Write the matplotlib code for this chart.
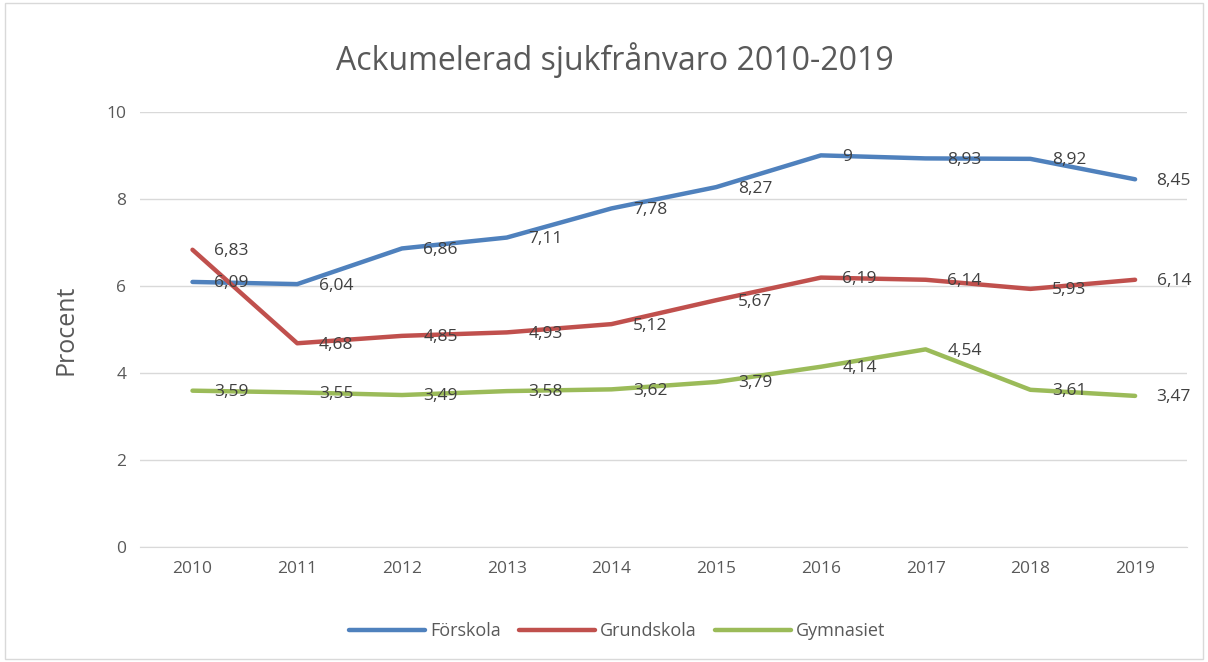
import matplotlib.pyplot as plt
from matplotlib.patches import Rectangle

years = ["2010", "2011", "2012", "2013", "2014", "2015", "2016", "2017", "2018", "2019"]
forskola = [6.09, 6.04, 6.86, 7.11, 7.78, 8.27, 9, 8.93, 8.92, 8.45]
grundskola = [6.83, 4.68, 4.85, 4.93, 5.12, 5.67, 6.19, 6.14, 5.93, 6.14]
gymnasiet = [3.59, 3.55, 3.49, 3.58, 3.62, 3.79, 4.14, 4.54, 3.61, 3.47]

series = [("Förskola", forskola, "#4F81BD"),
          ("Grundskola", grundskola, "#C0504D"),
          ("Gymnasiet", gymnasiet, "#9BBB59")]

plt.rcParams['font.family'] = ['Open Sans', 'DejaVu Sans']

fig = plt.figure(figsize=(12.08, 6.62), dpi=100)
ax = fig.add_axes([0.116, 0.174, 0.867, 0.657])

x = list(range(len(years)))
for name, vals, col in series:
    ax.plot(x, vals, color=col, lw=3.2, label=name, solid_capstyle="round")
    for xi, v in zip(x, vals):
        txt = f"{v:g}".replace(".", ",")
        ax.annotate(txt, (xi, v), xytext=(15.5, -1), textcoords="offset points",
                    ha="left", va="center", fontsize=12.5, color="#404040")

ax.set_xlim(-0.5, 9.5)
ax.set_ylim(0, 10)
ax.set_yticks([0, 2, 4, 6, 8, 10])
ax.set_xticks(x)
ax.set_xticklabels(years)
ax.tick_params(length=0, labelsize=12.5, labelcolor="#595959", pad=10)
ax.grid(axis="y", color="#D9D9D9", lw=1)
ax.set_axisbelow(True)
for s in ["top", "right", "left"]:
    ax.spines[s].set_visible(False)
ax.spines["bottom"].set_color("#D9D9D9")
ax.set_ylabel("Procent", fontsize=18, color="#595959", labelpad=20)

fig.text(0.509, 0.909, "Ackumelerad sjukfrånvaro 2010-2019", ha="center", va="center",
         fontsize=23, color="#595959")

fig.legend(loc="center", bbox_to_anchor=(0.511, 0.047), ncol=3, frameon=False,
           fontsize=13, labelcolor="#595959", handlelength=4.2, columnspacing=1.0,
           handletextpad=0.3)

fig.patches.append(Rectangle((0.004, 0.004), 0.992, 0.992, transform=fig.transFigure,
                             fill=False, edgecolor="#D9D9D9", lw=1))

fig.savefig("out.png", dpi=100)
